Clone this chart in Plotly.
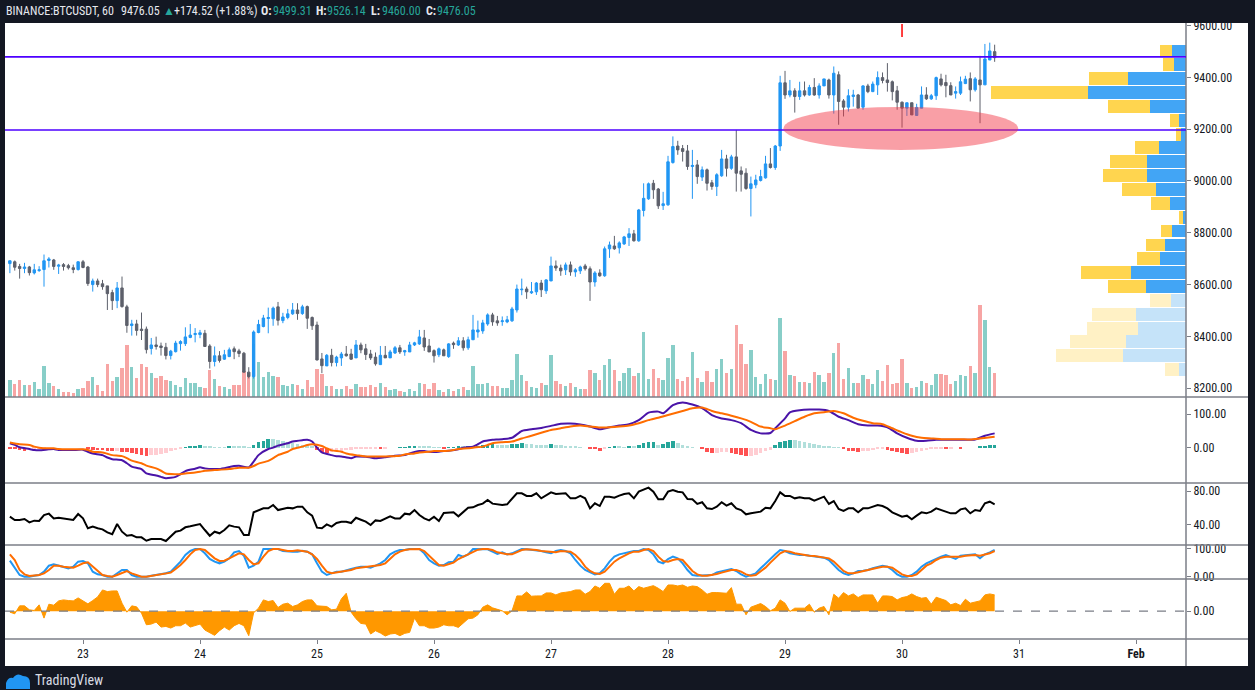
import pandas as pd
import plotly.graph_objects as go

# BINANCE:BTCUSDT, 1h candles from 2020-01-22 09:00
first_candle = "2020-01-22 09:00"

opens = [8681, 8688, 8670, 8662, 8668, 8645, 8654, 8658, 8693, 8695,
         8671, 8677, 8673, 8665, 8658, 8688, 8668, 8600, 8614, 8603,
         8595, 8569, 8538, 8587, 8514, 8442, 8448, 8428, 8428, 8353,
         8367, 8363, 8358, 8326, 8341, 8372, 8372, 8396, 8407, 8407,
         8412, 8363, 8303, 8325, 8312, 8322, 8352, 8344, 8335, 8262,
         8245, 8415, 8438, 8469, 8468, 8514, 8461, 8473, 8487, 8502,
         8488, 8515, 8473, 8444, 8313, 8286, 8327, 8299, 8317, 8332,
         8332, 8317, 8367, 8352, 8332, 8320, 8291, 8327, 8317, 8336,
         8356, 8340, 8340, 8367, 8371, 8394, 8363, 8345, 8329, 8348,
         8322, 8374, 8367, 8383, 8356, 8387, 8417, 8421, 8448, 8483,
         8460, 8457, 8456, 8460, 8502, 8580, 8583, 8568, 8572, 8606,
         8576, 8614, 8672, 8664, 8657, 8676, 8649, 8653, 8672, 8661,
         8610, 8645, 8634, 8738, 8749, 8742, 8757, 8782, 8796, 8769,
         8886, 8931, 8991, 8969, 8905, 8908, 9071, 9135, 9125, 9116,
         9056, 9062, 9015, 9043, 8993, 8979, 9020, 9085, 9049, 9093,
         9039, 9030, 8971, 8985, 9002, 9012, 9066, 9052, 9135, 9379,
         9332, 9348, 9326, 9348, 9332, 9361, 9332, 9367, 9390, 9332,
         9410, 9309, 9285, 9326, 9332, 9285, 9367, 9345, 9371, 9399,
         9390, 9383, 9348, 9304, 9281, 9302, 9253, 9281, 9332, 9317,
         9329, 9394, 9380, 9368, 9339, 9339, 9376, 9395, 9352, 9390,
         9371, 9467, 9499.31]
highs = [8692, 8693, 8680, 8684, 8672, 8680, 8671, 8716, 8706, 8699,
         8680, 8683, 8680, 8677, 8690, 8695, 8672, 8623, 8623, 8618,
         8595, 8580, 8610, 8631, 8522, 8464, 8464, 8492, 8438, 8394,
         8399, 8376, 8375, 8348, 8383, 8385, 8435, 8448, 8432, 8425,
         8425, 8370, 8361, 8343, 8348, 8357, 8361, 8352, 8340, 8281,
         8423, 8464, 8483, 8511, 8515, 8533, 8491, 8506, 8529, 8528,
         8522, 8519, 8477, 8457, 8336, 8332, 8352, 8325, 8340, 8363,
         8352, 8386, 8376, 8371, 8348, 8338, 8363, 8363, 8348, 8363,
         8367, 8348, 8379, 8379, 8425, 8425, 8390, 8350, 8357, 8353,
         8374, 8380, 8397, 8397, 8399, 8483, 8461, 8464, 8489, 8491,
         8479, 8477, 8479, 8514, 8600, 8623, 8592, 8610, 8610, 8618,
         8621, 8708, 8693, 8677, 8685, 8689, 8664, 8673, 8680, 8670,
         8652, 8659, 8747, 8766, 8788, 8767, 8788, 8818, 8811, 8892,
         8991, 8994, 9004, 8973, 8958, 9097, 9172, 9155, 9139, 9139,
         9120, 9081, 9056, 9048, 9004, 9030, 9120, 9101, 9101, 9197,
         9056, 9049, 9017, 9024, 9043, 9097, 9127, 9139, 9406, 9425,
         9390, 9358, 9383, 9384, 9371, 9397, 9377, 9394, 9395, 9442,
         9423, 9316, 9354, 9352, 9336, 9370, 9375, 9384, 9423, 9419,
         9455, 9388, 9367, 9307, 9302, 9302, 9298, 9365, 9362, 9336,
         9403, 9414, 9410, 9381, 9365, 9403, 9406, 9419, 9401, 9483,
         9529, 9534, 9526.14]
lows = [8644, 8654, 8623, 8644, 8635, 8639, 8649, 8592, 8666, 8657,
        8641, 8654, 8658, 8644, 8654, 8663, 8595, 8573, 8590, 8580,
        8502, 8502, 8509, 8511, 8414, 8403, 8403, 8386, 8334, 8330,
        8349, 8326, 8311, 8311, 8338, 8345, 8363, 8393, 8377, 8393,
        8361, 8276, 8284, 8299, 8309, 8320, 8312, 8320, 8260, 8238,
        8237, 8412, 8435, 8412, 8441, 8442, 8451, 8466, 8483, 8464,
        8483, 8429, 8425, 8307, 8258, 8286, 8284, 8284, 8286, 8322,
        8309, 8317, 8335, 8309, 8309, 8287, 8290, 8317, 8317, 8332,
        8332, 8325, 8340, 8363, 8367, 8344, 8340, 8299, 8320, 8325,
        8317, 8352, 8363, 8345, 8348, 8387, 8395, 8410, 8441, 8441,
        8441, 8441, 8451, 8456, 8492, 8559, 8545, 8564, 8560, 8552,
        8564, 8614, 8653, 8634, 8637, 8634, 8630, 8641, 8654, 8537,
        8592, 8630, 8630, 8703, 8734, 8720, 8753, 8749, 8766, 8765,
        8863, 8927, 8931, 8892, 8888, 8904, 9067, 9101, 9075, 9043,
        8931, 8989, 9000, 8963, 8966, 8942, 9016, 9017, 9043, 8959,
        8959, 8966, 8863, 8972, 8998, 9009, 9048, 9043, 9116, 9317,
        9323, 9264, 9313, 9326, 9329, 9329, 9318, 9367, 9318, 9260,
        9217, 9249, 9268, 9287, 9281, 9275, 9339, 9343, 9332, 9377,
        9345, 9311, 9275, 9206, 9251, 9255, 9251, 9281, 9313, 9313,
        9313, 9365, 9323, 9332, 9318, 9332, 9374, 9307, 9345, 9223,
        9371, 9467, 9460.00]
closes = [8692, 8667, 8662, 8668, 8646, 8657, 8657, 8692, 8699, 8670,
          8675, 8670, 8665, 8658, 8688, 8666, 8604, 8614, 8600, 8592,
          8565, 8538, 8587, 8515, 8442, 8448, 8423, 8423, 8349, 8367,
          8361, 8357, 8326, 8343, 8374, 8380, 8398, 8405, 8411, 8414,
          8361, 8303, 8325, 8307, 8329, 8348, 8341, 8334, 8262, 8245,
          8417, 8446, 8471, 8473, 8509, 8462, 8475, 8487, 8502, 8488,
          8514, 8470, 8441, 8309, 8287, 8327, 8299, 8320, 8332, 8325,
          8312, 8367, 8348, 8330, 8317, 8294, 8327, 8317, 8340, 8356,
          8340, 8345, 8367, 8375, 8398, 8359, 8340, 8325, 8352, 8325,
          8371, 8368, 8383, 8356, 8387, 8425, 8425, 8452, 8483, 8456,
          8452, 8460, 8464, 8506, 8583, 8582, 8572, 8572, 8606, 8580,
          8618, 8672, 8664, 8653, 8676, 8649, 8657, 8668, 8661, 8610,
          8645, 8634, 8738, 8753, 8738, 8761, 8784, 8796, 8769, 8888,
          8933, 8989, 8966, 8904, 8912, 9074, 9133, 9120, 9114, 9056,
          9060, 9017, 9043, 8991, 8979, 9024, 9085, 9049, 9093, 9030,
          9026, 8971, 8989, 9004, 9017, 9066, 9052, 9135, 9379, 9332,
          9348, 9326, 9348, 9332, 9361, 9332, 9367, 9394, 9332, 9416,
          9307, 9285, 9329, 9332, 9281, 9367, 9345, 9374, 9399, 9388,
          9380, 9345, 9304, 9281, 9302, 9255, 9284, 9332, 9317, 9329,
          9399, 9371, 9368, 9332, 9345, 9383, 9393, 9352, 9394, 9371,
          9471, 9502, 9476.05]
volumes = [867, 663, 867, 612, 612, 765, 408, 1581, 714, 561,
           408, 255, 255, 204, 408, 459, 816, 1020, 612, 306,
           1683, 816, 1020, 1479, 2652, 1530, 969, 1683, 1530, 1224,
           969, 1071, 867, 816, 612, 510, 969, 714, 714, 510,
           459, 1377, 918, 561, 510, 408, 612, 612, 1326, 1122,
           2703, 1785, 1020, 1275, 1071, 1020, 612, 561, 663, 612,
           408, 867, 510, 1428, 1173, 561, 561, 408, 408, 544,
           391, 646, 493, 493, 595, 493, 697, 493, 340, 391,
           289, 238, 391, 289, 697, 646, 391, 697, 340, 238,
           391, 289, 391, 493, 340, 1564, 646, 646, 697, 544,
           544, 442, 442, 850, 2176, 1105, 799, 493, 442, 697,
           595, 2125, 799, 646, 544, 697, 493, 391, 391, 1377,
           1207, 850, 1615, 1921, 1360, 799, 1207, 1462, 1054, 1207,
           3298, 901, 1428, 969, 867, 1989, 2652, 918, 816, 1020,
           2295, 969, 765, 1326, 765, 1428, 1938, 1224, 1428, 3672,
           2703, 1683, 2397, 1020, 663, 1173, 918, 867, 4029, 2346,
           1122, 1071, 765, 765, 714, 1275, 1122, 765, 1224, 2244,
           2754, 918, 1479, 714, 714, 1122, 918, 663, 1377, 816,
           1632, 663, 714, 1938, 714, 459, 510, 816, 714, 612,
           1173, 1173, 1122, 663, 816, 1122, 1071, 1581, 1224, 4692,
           3927, 1530, 1224]

# volume profile rows, bottom to top
vp_price = [8272, 8325, 8379, 8432, 8486, 8539, 8593, 8646, 8700, 8753, 8807, 8860,
            8914, 8967, 9021, 9074, 9128, 9181, 9235, 9288, 9342, 9395, 9449, 9502]
vp_up = [420, 3760, 3600, 2880, 2980, 920, 2420, 3300, 1540, 1280, 840, 180,
         980, 1820, 2360, 2320, 1620, 320, 440, 2140, 5880, 3460, 720, 840]
vp_down = [840, 4040, 3360, 3060, 2660, 1240, 2280, 3020, 1380, 1120, 660, 240,
           1100, 2020, 2620, 2240, 1440, 300, 540, 2560, 5820, 2380, 680, 700]
value_area_low = 8566

# MACD (12, 26, 9)
macd_idx = [0, 1, 2, 4, 5, 6, 8, 9, 10, 12, 13, 15, 16, 17, 19, 20, 21, 23, 24, 25,
            27, 28, 30, 31, 32, 34, 35, 36, 38, 39, 40, 42, 43, 45, 46, 47, 49, 50, 51, 53,
            54, 55, 57, 58, 60, 61, 62, 63, 64, 66, 67, 68, 70, 71, 73, 74, 75, 77, 78, 79,
            81, 82, 84, 85, 86, 88, 89, 90, 92, 93, 95, 96, 97, 99, 100, 101, 103, 105, 107, 109,
            111, 113, 115, 117, 119, 121, 123, 125, 127, 129, 131, 133, 134, 136, 138, 140, 142, 144, 146, 148,
            150, 152, 154, 156, 157, 159, 160, 162, 164, 166, 168, 170, 172, 174, 176, 178, 180, 182, 184, 186,
            188, 190, 192, 194, 196, 198, 200, 202]
macd_line = [14, 9, 2, -3, -6, -7, -4, -3, -6, -6, -6, -5, -11, -16, -21, -28, -33, -36, -45, -55,
             -62, -75, -81, -85, -89, -85, -77, -68, -61, -57, -60, -62, -62, -56, -53, -52, -57, -40, -21, -3,
             1, 7, 14, 19, 23, 24, 19, 1, -13, -21, -24, -25, -30, -25, -26, -28, -30, -27, -25, -23,
             -21, -16, -9, -9, -11, -11, -9, -8, -4, 1, 4, 11, 19, 24, 25, 26, 30, 50, 55, 59,
             65, 71, 72, 69, 63, 55, 61, 66, 70, 82, 104, 107, 102, 126, 134, 128, 117, 97, 87, 82,
             73, 53, 43, 44, 58, 87, 105, 111, 113, 113, 109, 92, 82, 70, 66, 66, 61, 43, 30, 21,
             21, 24, 24, 24, 24, 25, 36, 43]
signal_idx = [0, 2, 4, 5, 6, 8, 9, 10, 12, 13, 15, 16, 17, 19, 20, 21, 23, 24, 25, 27,
              28, 30, 31, 32, 34, 35, 36, 38, 39, 40, 42, 43, 45, 46, 47, 49, 50, 51, 53, 54,
              55, 57, 58, 60, 61, 62, 64, 65, 66, 68, 69, 71, 72, 73, 75, 76, 77, 79, 80, 81,
              83, 84, 86, 87, 88, 90, 91, 92, 94, 95, 97, 98, 99, 101, 103, 105, 107, 109, 111, 113,
              115, 117, 119, 121, 123, 125, 127, 129, 131, 133, 135, 138, 140, 142, 144, 146, 148, 150, 152, 154,
              156, 157, 159, 161, 163, 165, 167, 169, 171, 173, 175, 177, 179, 181, 183, 185, 187, 189, 191, 193,
              195, 197, 199, 202]
signal_line = [16, 11, 9, 4, 1, -1, -1, -3, -4, -4, -4, -6, -11, -13, -17, -21, -24, -30, -37, -45,
               -52, -60, -67, -75, -77, -77, -75, -72, -70, -67, -65, -64, -62, -60, -58, -58, -53, -46, -38, -30,
               -21, -11, -3, 4, 9, 11, 6, -1, -7, -11, -16, -21, -23, -25, -25, -25, -25, -24, -23, -19,
               -16, -13, -11, -9, -9, -8, -6, -3, -1, 1, 4, 9, 14, 17, 19, 28, 36, 45, 53, 58,
               63, 66, 63, 60, 61, 63, 66, 73, 82, 89, 97, 109, 117, 119, 109, 102, 95, 87, 77, 63,
               58, 55, 66, 79, 92, 102, 105, 109, 102, 89, 80, 73, 70, 58, 46, 36, 30, 28, 26, 26,
               26, 25, 28, 33]
macd_hist = [-2, -4, -6, -8, -6, -3, -2, -1, 0, 0, 0, 0, 0, 0, 0, 0, -3, -5, -6, -7,
             -8, -10, -9, -11, -13, -16, -18, -20, -24, -22, -21, -19, -15, -10, -6, -2, 2, 4, 7, 9,
             4, 3, 2, 2, 2, 4, 4, 4, 3, 1, 10, 18, 22, 26, 25, 23, 20, 18, 15, 12,
             10, 8, 5, -5, -12, -14, -12, -10, -8, -6, -5, -4, -3, -2, -1, -1, -3, -2, 0, 0,
             1, 2, 3, 5, 5, 4, 3, 2, 1, -1, 1, 2, 3, 3, 4, 5, 7, 9, 10, 11,
             9, 8, 8, 11, 13, 14, 12, 11, 10, 9, 8, 12, 10, 9, 7, 5, 3, 1, 0, -3,
             -4, -8, -2, 2, 3, 3, 2, 4, 3, 8, 14, 17, 18, 9, 12, 18, 20, 14, 10, 5,
             1, 0, -3, -13, -16, -16, -13, -11, -14, -18, -22, -25, -24, -20, -15, -10, -5, 8, 18, 22,
             24, 23, 22, 18, 15, 12, 9, 6, 4, 2, 1, -4, -8, -10, -11, -9, -8, -6, -4, -3,
             -5, -8, -12, -15, -18, -16, -12, -9, -6, -4, -2, -1, -2, -1, 0, -1, 0, 0, 0, 4,
             6, 8, 10]

rsi = [49.5, 45.6, 45.6, 46.8, 42.8, 44.8, 44.4, 51.5, 53.1, 47.5,
       48.3, 47.5, 46.4, 45.6, 52.7, 47.5, 35.7, 37.7, 35.7, 34.5,
       30.9, 28.6, 40.8, 31.7, 26.9, 27.8, 25.0, 25.0, 21.0, 23.0,
       23.0, 23.0, 20.7, 25.8, 31.7, 32.9, 36.9, 38.1, 39.6, 40.8,
       33.7, 26.9, 31.7, 29.8, 33.7, 39.2, 37.7, 36.9, 27.8, 27.8,
       54.7, 57.4, 59.4, 59.4, 63.4, 57.4, 58.6, 60.2, 59.4, 61.4,
       61.4, 54.7, 50.7, 36.5, 35.7, 40.4, 37.7, 42.0, 43.6, 43.6,
       42.0, 48.3, 45.9, 43.6, 39.6, 45.1, 44.4, 47.5, 49.9, 47.5,
       47.5, 53.1, 52.3, 57.4, 51.5, 47.5, 45.1, 49.5, 44.4, 53.9,
       53.9, 54.7, 49.9, 55.5, 60.2, 60.6, 63.4, 65.0, 69.3, 65.0,
       64.0, 63.4, 64.2, 70.5, 77.2, 77.2, 74.1, 74.1, 77.2, 71.3,
       75.3, 78.4, 76.4, 76.4, 77.2, 71.3, 71.3, 74.1, 71.3, 59.4,
       65.4, 62.2, 73.3, 73.3, 72.1, 74.5, 76.4, 77.2, 71.3, 79.2,
       81.2, 84.0, 79.2, 70.1, 70.1, 79.2, 81.2, 79.2, 78.4, 70.5,
       70.1, 64.6, 66.6, 59.4, 58.6, 61.4, 66.6, 62.6, 65.4, 59.4,
       57.4, 52.3, 53.5, 54.7, 55.5, 60.2, 59.4, 68.1, 78.4, 74.1,
       74.1, 71.3, 72.5, 71.3, 71.3, 68.5, 71.3, 73.3, 64.6, 68.1,
       58.6, 56.3, 59.4, 59.4, 54.7, 59.4, 59.4, 61.4, 63.4, 62.2,
       59.4, 54.7, 52.3, 49.5, 50.7, 46.4, 50.7, 54.7, 53.5, 55.5,
       59.4, 57.4, 56.3, 53.5, 53.5, 58.2, 59.4, 53.5, 57.4, 56.3,
       65.4, 67.3, 64.2]

stoch_k = [57.9, 30.2, 6.1, 0, 0, 3.7, 6.1, 18.2, 39.8, 44.6,
           39.8, 32.6, 30.2, 36.2, 54.3, 56.7, 48.3, 18.2, 8.5, 6.1,
           0, 0, 12.2, 24.2, 24.2, 6.1, 0, 0, 0, 3.7,
           6.1, 9.7, 12.2, 18.2, 36.2, 54.3, 78.3, 92.8, 100, 100,
           84.4, 63.9, 54.3, 48.3, 54.3, 66.3, 88.0, 92.8, 75.9, 32.6,
           39.8, 54.3, 100, 100, 100, 100, 92.8, 90.4, 90.4, 90.4,
           94.0, 90.4, 80.7, 48.3, 18.2, 6.1, 12.2, 18.2, 18.2, 24.2,
           27.8, 32.6, 36.2, 36.2, 32.6, 39.8, 48.3, 60.3, 80.7, 90.4,
           96.4, 96.4, 100, 100, 100, 84.4, 60.3, 48.3, 39.8, 42.2,
           51.9, 54.3, 78.3, 72.3, 80.7, 100, 100, 100, 98.8, 90.4,
           82.0, 88.0, 80.7, 84.4, 92.8, 100, 98.8, 96.4, 96.4, 92.8,
           88.0, 84.4, 92.8, 96.4, 92.8, 84.4, 60.3, 39.8, 24.2, 15.8,
           8.5, 12.2, 30.2, 54.3, 72.3, 80.7, 84.4, 90.4, 92.8, 92.8,
           100, 96.4, 80.7, 54.3, 48.3, 63.9, 72.3, 66.3, 48.3, 24.2,
           6.1, 3.7, 3.7, 6.1, 6.1, 15.8, 20.6, 24.2, 27.8, 20.6,
           8.5, 0, 6.1, 12.2, 30.2, 48.3, 66.3, 80.7, 96.4, 92.8,
           84.4, 80.7, 78.3, 78.3, 75.9, 74.7, 72.3, 68.7, 60.3, 42.2,
           24.2, 12.2, 6.1, 12.2, 20.6, 21.8, 24.2, 30.2, 36.2, 39.8,
           36.2, 24.2, 8.5, 0, 0, 6.1, 18.2, 36.2, 48.3, 56.7,
           66.3, 72.3, 78.3, 72.3, 63.9, 75.9, 78.3, 78.3, 80.7, 66.3,
           80.7, 88.0, 96.4]
stoch_d = [80.7, 60.3, 24.2, 8.5, 2.5, 3.7, 6.1, 12.2, 24.2, 39.8,
           39.8, 36.2, 33.8, 32.6, 39.8, 48.3, 51.9, 36.2, 18.2, 6.1,
           2.5, 0, 6.1, 12.2, 20.6, 12.2, 6.1, 0, 0, 2.5,
           6.1, 9.7, 12.2, 14.6, 27.8, 42.2, 60.3, 80.7, 96.4, 100,
           96.4, 80.7, 66.3, 56.7, 57.9, 66.3, 75.9, 84.4, 80.7, 60.3,
           44.6, 48.3, 72.3, 92.8, 100, 100, 96.4, 92.8, 92.8, 95.2,
           92.8, 90.4, 80.7, 63.9, 39.8, 18.2, 12.2, 14.6, 18.2, 20.6,
           24.2, 30.2, 32.6, 36.2, 38.6, 39.8, 42.2, 48.3, 63.9, 80.7,
           90.4, 96.4, 98.8, 100, 100, 92.8, 75.9, 56.7, 42.2, 39.8,
           44.6, 50.7, 63.9, 72.3, 78.3, 88.0, 97.6, 100, 100, 96.4,
           88.0, 84.4, 80.7, 80.7, 88.0, 96.4, 98.8, 98.8, 96.4, 92.8,
           90.4, 88.0, 88.0, 92.8, 92.8, 90.4, 78.3, 60.3, 36.2, 20.6,
           12.2, 9.7, 18.2, 36.2, 54.3, 66.3, 75.9, 84.4, 90.4, 90.4,
           96.4, 100, 92.8, 72.3, 56.7, 54.3, 60.3, 63.9, 60.3, 42.2,
           20.6, 8.5, 3.7, 3.7, 6.1, 9.7, 14.6, 20.6, 24.2, 24.2,
           18.2, 8.5, 3.7, 6.1, 18.2, 32.6, 50.7, 66.3, 84.4, 92.8,
           90.4, 84.4, 80.7, 78.3, 75.9, 74.7, 72.3, 69.9, 66.3, 54.3,
           36.2, 20.6, 12.2, 12.2, 15.8, 20.6, 24.2, 27.8, 32.6, 36.2,
           36.2, 32.6, 20.6, 8.5, 2.5, 2.5, 8.5, 24.2, 39.8, 48.3,
           60.3, 68.7, 72.3, 72.3, 71.1, 72.3, 75.9, 78.3, 78.3, 75.9,
           80.7, 84.4, 92.8]

# bottom oscillator (orange area)
osc = [-3, -8, 16, 16, 4, 2, 19, -21, 21, 18,
       31, 34, 32, 31, 40, 31, 22, 32, 43, 64,
       59, 61, 61, 24, -3, 16, 13, -6, -41, -39,
       -33, -48, -46, -51, -44, -44, -36, -48, -44, -39,
       -57, -64, -73, -59, -48, -57, -44, -37, -44, -74,
       -5, 9, 34, 29, 32, 11, 21, 24, 14, 19,
       29, 34, 34, 16, 14, 14, 4, 6, 37, 54,
       -3, -23, -37, -39, -69, -59, -66, -75, -69, -67,
       -74, -67, -64, -21, -44, -44, -51, -51, -48, -41,
       -44, -44, -49, -37, -23, -21, -11, 12, 19, 10,
       6, 1, -11, 1, 46, 46, 58, 45, 46, 46,
       55, 55, 49, 55, 57, 59, 64, 64, 51, 59,
       76, 69, 84, 84, 51, 69, 69, 76, 61, 74,
       69, 74, 77, 69, 59, 79, 79, 76, 79, 72,
       76, 74, 64, 51, 56, 56, 56, 54, 71, 21,
       21, -11, 12, 17, 23, 14, 1, 9, 34, 24,
       -1, 9, 9, 9, 21, -3, 9, 14, -11, 51,
       39, 56, 46, 52, 41, 49, 49, 49, 24, 46,
       46, 44, 34, 41, 44, 52, 44, 39, 41, 21,
       42, 37, 32, 19, 24, 17, 36, 24, 27, 31,
       49, 52, 49]

h_lines = [9479, 9197]
day_ticks = ["2020-01-23", "2020-01-24", "2020-01-25", "2020-01-26", "2020-01-27",
             "2020-01-28", "2020-01-29", "2020-01-30", "2020-01-31", "2020-02-01"]
day_labels = ["23", "24", "25", "26", "27", "28", "29", "30", "31", "<b>Feb</b>"]

# legend line: (text, colour, bold, left px)
header_parts = [
    ("BINANCE:BTCUSDT, 60", "#e6e8ee", False, 4),
    ("9476.05", "#e6e8ee", False, 119),
    ("▲", "#26a69a", False, 161),
    ("+174.52 (+1.88%)", "#e6e8ee", False, 172),
    ("O:", "#e6e8ee", True, 259), ("9499.31", "#26a69a", False, 271),
    ("H:", "#e6e8ee", True, 314), ("9526.14", "#26a69a", False, 325),
    ("L:", "#e6e8ee", True, 369), ("9460.00", "#26a69a", False, 380),
    ("C:", "#e6e8ee", True, 424), ("9476.05", "#26a69a", False, 435),
]

UP = "#2196f3"
DOWN = "#5d606b"
FRAME = "#131722"
LINE = "#7b7e87"
FONT = "Liberation Sans Narrow, Arial Narrow, Roboto Condensed, Liberation Sans, Arial, sans-serif"
HOUR = 3600 * 1000

times = pd.date_range(first_candle, periods=len(closes), freq="h")

vol_colors = ["rgba(38,166,154,0.55)" if c >= o else "rgba(239,83,80,0.52)"
              for o, c in zip(opens, closes)]
hist_colors = []
prev = 0
for h in macd_hist:
    if h >= 0:
        hist_colors.append("#26a69a" if h > prev else "#b2dfdb")
    else:
        hist_colors.append("#ff5252" if h < prev else "#ffcdd2")
    prev = h
vp_up_colors = ["#42a5f5" if p > value_area_low else "#c5e3f9" for p in vp_price]
vp_down_colors = ["#ffd54f" if p > value_area_low else "#fff1c5" for p in vp_price]

fig = go.Figure()

fig.add_trace(go.Bar(x=times, y=volumes, marker=dict(color=vol_colors, line_width=0),
                     width=0.7 * HOUR, xaxis="x", yaxis="y"))
fig.add_trace(go.Candlestick(
    x=times, open=opens, high=highs, low=lows, close=closes, xaxis="x", yaxis="y6",
    increasing=dict(line=dict(color=UP, width=1), fillcolor=UP),
    decreasing=dict(line=dict(color=DOWN, width=1), fillcolor=DOWN),
    whiskerwidth=0))
fig.add_trace(go.Bar(y=vp_price, x=vp_up, orientation="h", width=49.5, xaxis="x2", yaxis="y6",
                     marker=dict(color=vp_up_colors, line_width=0)))
fig.add_trace(go.Bar(y=vp_price, x=vp_down, orientation="h", width=49.5, xaxis="x2", yaxis="y6",
                     marker=dict(color=vp_down_colors, line_width=0)))

fig.add_trace(go.Bar(x=times, y=macd_hist, marker=dict(color=hist_colors, line_width=0),
                     width=0.75 * HOUR, xaxis="x", yaxis="y2"))
fig.add_trace(go.Scatter(x=times[macd_idx], y=macd_line, mode="lines", xaxis="x", yaxis="y2",
                         line=dict(color="#4a14a8", width=2, shape="spline", smoothing=0.6)))
fig.add_trace(go.Scatter(x=times[signal_idx], y=signal_line, mode="lines", xaxis="x", yaxis="y2",
                         line=dict(color="#ff6d00", width=2, shape="spline", smoothing=0.6)))

fig.add_trace(go.Scatter(x=times, y=rsi, mode="lines", xaxis="x", yaxis="y3",
                         line=dict(color="#000000", width=2)))

fig.add_trace(go.Scatter(x=times, y=stoch_k, mode="lines", xaxis="x", yaxis="y4",
                         line=dict(color="#2196f3", width=2)))
fig.add_trace(go.Scatter(x=times, y=stoch_d, mode="lines", xaxis="x", yaxis="y4",
                         line=dict(color="#ff6d00", width=2)))

fig.add_trace(go.Scatter(x=times, y=osc, mode="lines", fill="tozeroy", fillcolor="#ff9800",
                         xaxis="x", yaxis="y5", line=dict(color="#ff9800", width=1)))


def px(x):
    return (x - 5) / 1181


def py(y):
    return (639 - y) / 615


shapes = [
    dict(type="rect", xref="paper", yref="paper", x0=0, x1=px(1248), y0=py(666), y1=py(23),
         fillcolor="white", line_width=0, layer="below"),
    dict(type="line", xref="paper", yref="paper", x0=1, x1=1, y0=py(666), y1=py(23),
         line=dict(color=LINE, width=1.5)),
]
for yy in [397, 483, 545, 579, 639]:
    shapes.append(dict(type="line", xref="paper", yref="paper", x0=0, x1=px(1248),
                       y0=py(yy), y1=py(yy), line=dict(color=LINE, width=1.5)))
for level in h_lines:
    shapes.append(dict(type="line", xref="paper", yref="y6", x0=0, x1=1, y0=level, y1=level,
                       line=dict(color="#4d00ff", width=1.6)))
shapes.append(dict(type="circle", xref="x", yref="y6", x0="2020-01-28 23:40", x1="2020-01-30 23:50",
                   y0=9120, y1=9286, fillcolor="rgba(242,54,69,0.48)", line_width=0))
shapes.append(dict(type="line", xref="x", yref="y6", x0="2020-01-30 00:00", x1="2020-01-30 00:00",
                   y0=9556, y1=9606, line=dict(color="#ff0000", width=1.5)))
shapes.append(dict(type="line", xref="paper", yref="y5", x0=0, x1=1, y0=0, y1=0,
                   line=dict(color=LINE, width=1.2, dash="dash")))
# TradingView logo
shapes.append(dict(type="path", xref="paper", yref="paper", fillcolor="#2196f3", line_width=0,
                   path=f"M {px(6)} {py(689)} L {px(6)} {py(683)} Q {px(8)} {py(677)} {px(13)} {py(678)} "
                        f"Q {px(17)} {py(672)} {px(23)} {py(676)} Q {px(30)} {py(676)} {px(30)} {py(683)} "
                        f"L {px(30)} {py(689)} Z"))

annotations = []
for text, color, bold, left in header_parts:
    annotations.append(dict(xref="paper", yref="paper", x=px(left), y=py(11), xanchor="left",
                            yanchor="middle", showarrow=False,
                            text=f"<b>{text}</b>" if bold else text,
                            font=dict(family=FONT, size=12, color=color)))
annotations.append(dict(xref="paper", yref="paper", x=px(33), y=py(680), xanchor="left",
                        yanchor="middle", text="TradingView", showarrow=False,
                        font=dict(family=FONT, size=14, color="#d8dbe2")))

axis_font = dict(family=FONT, size=12, color="#131722")
y_common = dict(side="right", anchor="x", ticks="outside", ticklen=4, tickcolor=LINE,
                tickformat=".2f", showgrid=False, zeroline=False, showline=False,
                tickfont=axis_font, fixedrange=True)

fig.update_layout(
    width=1255, height=690, autosize=False,
    paper_bgcolor=FRAME, plot_bgcolor="white",
    margin=dict(l=5, r=69, t=24, b=51),
    showlegend=False, hovermode=False, barmode="stack",
    xaxis=dict(domain=[0, 1], anchor="y5", type="date",
               range=["2020-01-22 08:00", "2020-02-01 10:15"],
               tickvals=day_ticks, ticktext=day_labels, ticks="outside", ticklen=4,
               tickcolor=LINE, showgrid=False, zeroline=False, showline=False,
               tickfont=axis_font, rangeslider=dict(visible=False), fixedrange=True),
    xaxis2=dict(overlaying="x", anchor="y6", range=[70860, 0], visible=False),
    yaxis=dict(domain=[py(397), 1], range=[0, 19000], visible=False, fixedrange=True),
    yaxis6=dict(y_common, overlaying="y", range=[8166, 9606],
                tickvals=[8200, 8400, 8600, 8800, 9000, 9200, 9400, 9600]),
    yaxis2=dict(y_common, domain=[py(483), py(397)], range=[-103, 150], tickvals=[0, 100]),
    yaxis3=dict(y_common, domain=[py(545), py(483)], range=[15.9, 89.5], tickvals=[40, 80]),
    yaxis4=dict(y_common, domain=[py(579), py(545)], range=[-8.3, 114.4], tickvals=[0, 100]),
    yaxis5=dict(y_common, domain=[0, py(579)], range=[-84, 97], tickvals=[0]),
    shapes=shapes,
    annotations=annotations,
)

fig.write_html("out.html", config={"displayModeBar": False},
               post_script="document.body.style.margin='0';")
